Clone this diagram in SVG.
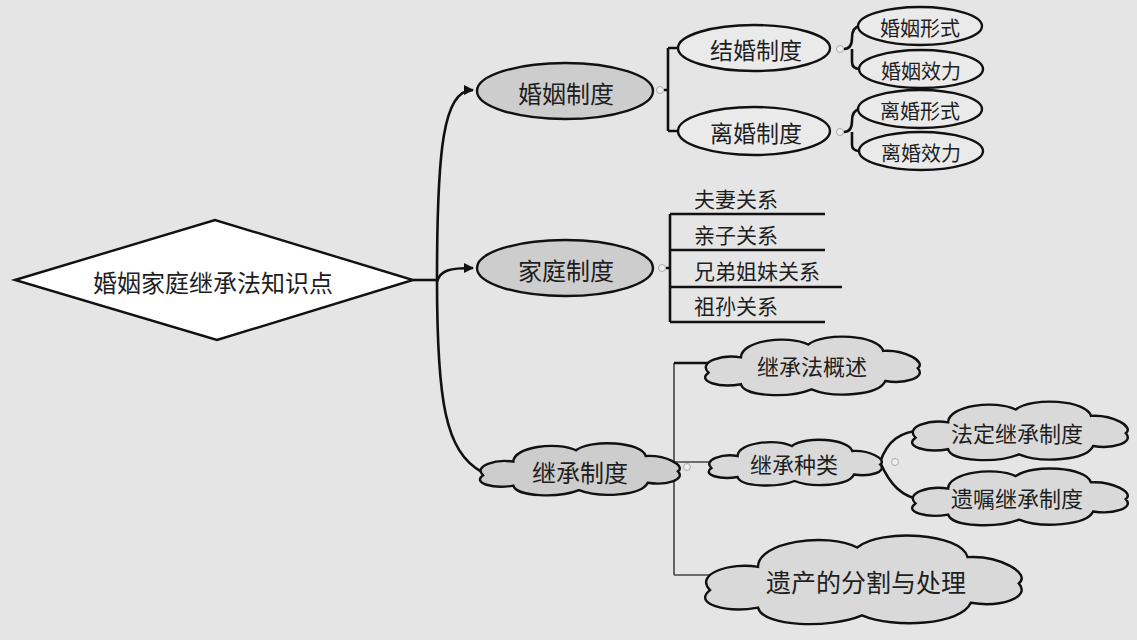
<svg xmlns="http://www.w3.org/2000/svg" xmlns:xlink="http://www.w3.org/1999/xlink" width="1137" height="640" viewBox="0 0 1137 640">
<style>
text{font-family:"Noto Sans CJK SC","Noto Sans",sans-serif;fill:#1e1e1e;text-anchor:middle;dominant-baseline:central}
.n{stroke:#111;stroke-width:2.4}
.dark{fill:#cdcdcd}
.light{fill:#eaeaea}
.cl{fill:#d9d9d9}
.ln{fill:none;stroke:#111;stroke-width:2.6}
.thin{fill:none;stroke:#444;stroke-width:1.6}
.dot{fill:#eee;stroke:#aaa;stroke-width:1}
</style>
<defs>
<marker id="arr" viewBox="0 0 10 10" refX="9" refY="5" markerWidth="4" markerHeight="4" orient="auto" markerUnits="strokeWidth">
<path d="M0,0 L10,5 L0,10 Z" fill="#111"/>
</marker>
<path id="cloud" vector-effect="non-scaling-stroke" d="M5,62 C-5,45 18,33 35,38 C35,12 78,2 97,18 C112,-2 162,3 166,28 C186,26 206,45 198,55 C206,70 186,80 168,75 C162,98 120,102 100,88 C80,102 38,100 35,80 C15,86 -6,76 5,62 Z"/>
</defs>
<rect width="1137" height="640" fill="#e5e5e5"/>

<g id="connectors">
<path class="ln" d="M413,280 L437,280"/>
<path class="ln" d="M437,280 C437,150 443,90 473,90" marker-end="url(#arr)"/>
<path class="ln" d="M437,282 C440,270 450,268 473,268" marker-end="url(#arr)"/>
<path class="ln" d="M437,280 C437,400 445,452 482,472"/>
<path class="ln" d="M664,90 H668 M668,48 V131 M668,48 H679 M668,131 H679"/>
<path class="ln" d="M844,49 Q852,49 852,38 Q852,27 860,26 M852,49 Q852,60 852,62 Q852,69 860,69"/>
<path class="ln" d="M844,132 Q852,132 852,121 Q852,110 860,109 M852,132 Q852,143 852,145 Q852,151 860,151"/>
<path class="ln" d="M666,268 H670 M670,214 V322 M670,214 H825 M670,250 H825 M670,287 H842 M670,322 H825"/>
<path class="thin" d="M674,363 V575 M674,462 H712 M674,575 H733"/>
<path class="ln" d="M674,363 H722"/>
<path class="ln" d="M880,462 C888,440 900,432 922,430 M880,462 C890,485 902,497 922,500"/>
<circle class="dot" cx="660" cy="90" r="3.5"/>
<circle class="dot" cx="840" cy="49" r="3.5"/>
<circle class="dot" cx="840" cy="132" r="3.5"/>
<circle class="dot" cx="662" cy="268" r="3.5"/>
<circle class="dot" cx="687" cy="467" r="3.5"/>
<circle class="dot" cx="895" cy="462" r="3.5"/>
</g>

<g id="root">
<polygon class="n" fill="#fff" points="15,280 215,220 413,280 217,340"/>
<text x="213" y="281" font-size="24">婚姻家庭继承法知识点</text>
</g>

<g id="marriage">
<ellipse class="n dark" cx="565" cy="91" rx="88" ry="28"/>
<text x="566" y="92" font-size="24">婚姻制度</text>
</g>
<g id="jiehun">
<ellipse class="n light" cx="754" cy="48" rx="76" ry="23"/>
<text x="756" y="49" font-size="23">结婚制度</text>
</g>
<g id="lihun">
<ellipse class="n light" cx="754" cy="131" rx="76" ry="24"/>
<text x="756" y="132" font-size="23">离婚制度</text>
</g>
<g id="hyxs">
<ellipse class="n light" cx="920" cy="26" rx="62" ry="19"/>
<text x="920" y="27" font-size="20">婚姻形式</text>
</g>
<g id="hyxl">
<ellipse class="n light" cx="921" cy="69" rx="62" ry="19"/>
<text x="921" y="70" font-size="20">婚姻效力</text>
</g>
<g id="lhxs">
<ellipse class="n light" cx="920" cy="109" rx="62" ry="19"/>
<text x="920" y="110" font-size="20">离婚形式</text>
</g>
<g id="lhxl">
<ellipse class="n light" cx="921" cy="151" rx="62" ry="19"/>
<text x="921" y="152" font-size="20">离婚效力</text>
</g>

<g id="family">
<ellipse class="n dark" cx="565" cy="268" rx="88" ry="28"/>
<text x="566" y="269" font-size="24">家庭制度</text>
</g>
<g id="fq"><text x="694" y="198" font-size="21" style="text-anchor:start">夫妻关系</text></g>
<g id="qz"><text x="694" y="234" font-size="21" style="text-anchor:start">亲子关系</text></g>
<g id="xd"><text x="694" y="270" font-size="21" style="text-anchor:start">兄弟姐妹关系</text></g>
<g id="zs"><text x="694" y="305" font-size="21" style="text-anchor:start">祖孙关系</text></g>

<g id="inherit">
<use href="#cloud" class="n dark" transform="translate(478,440) scale(1.01,0.57)"/>
<text x="580" y="471" font-size="24">继承制度</text>
</g>
<g id="gaishu">
<use href="#cloud" class="n cl" transform="translate(703,333) scale(1.085,0.64)"/>
<text x="812" y="365" font-size="22">继承法概述</text>
</g>
<g id="zhonglei">
<use href="#cloud" class="n cl" transform="translate(707,437) scale(0.875,0.5)"/>
<text x="794" y="463" font-size="22">继承种类</text>
</g>
<g id="fading">
<use href="#cloud" class="n cl" transform="translate(910,398) scale(1.09,0.64)"/>
<text x="1017" y="432" font-size="22">法定继承制度</text>
</g>
<g id="yizhu">
<use href="#cloud" class="n cl" transform="translate(910,465) scale(1.09,0.62)"/>
<text x="1017" y="497" font-size="22">遗嘱继承制度</text>
</g>
<g id="yichan">
<use href="#cloud" class="n cl" transform="translate(702,530) scale(1.6,0.97)"/>
<text x="866" y="581" font-size="25">遗产的分割与处理</text>
</g>
</svg>
